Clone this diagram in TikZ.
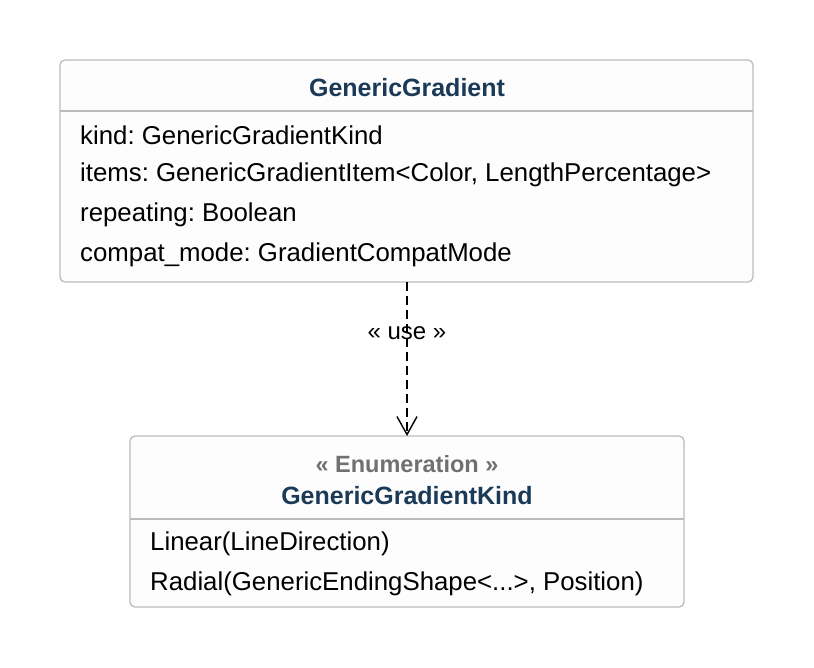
\documentclass[tikz,border=0pt]{standalone}
\usepackage{fontspec}
\setmainfont{Liberation Sans}
\usetikzlibrary{arrows.meta}
\definecolor{boxline}{HTML}{BBBBBB}
\definecolor{boxfill}{HTML}{FDFDFD}
\definecolor{titlecol}{HTML}{1B3A57}
\definecolor{stereocol}{HTML}{707070}
\frenchspacing
\begin{document}
\begin{tikzpicture}[x=1pt,y=-1pt,
  umlbox/.style={draw=boxline,fill=boxfill,line width=1.3pt,rounded corners=5pt},
  sepline/.style={draw=boxline,line width=1.3pt},
  title/.style={font=\fontsize{25}{30}\selectfont\bfseries,text=titlecol,inner sep=0pt},
  stereo/.style={font=\fontsize{23.5}{28}\selectfont\bfseries,text=stereocol,inner sep=0pt},
  member/.style={font=\fontsize{25.8}{30}\selectfont,anchor=west,inner sep=0pt},
  uselabel/.style={font=\fontsize{24}{28}\selectfont,inner sep=1pt},
  dep/.style={draw=black,line width=1.4pt,dash pattern=on 9pt off 5pt,-{Straight Barb[length=18pt,width=20pt,line width=1.4pt]}}
]
\useasboundingbox (0,0) rectangle (814,668);
% top class
\path[umlbox] (60,60) rectangle (753,282);
\coordinate (topbot) at (407,282);
\draw[sepline] (60,111) -- (753,111);
\node[title] (gg) at (407,88) {GenericGradient};
\node[member] (m1) at (80,135) {kind: GenericGradientKind};
\node[member] (m2) at (80,175) {items: GenericGradientItem<Color, LengthPercentage>};
\node[member] (m3) at (80,215) {repeating: Boolean};
\node[member] (m4) at (80,255) {compat\_mode: GradientCompatMode};
% bottom enum
\path[umlbox] (130,436) rectangle (684,607);
\coordinate (enumtop) at (407,436);
\draw[sepline] (130,519) -- (684,519);
\node[stereo] (st) at (407,464) {« Enumeration »};
\node[title] (ggk) at (407,496) {GenericGradientKind};
\node[member] (e1) at (150,544) {Linear(LineDirection)};
\node[member] (e2) at (150,584) {Radial(GenericEndingShape<...>, Position)};
% dependency
\draw[dep] (topbot) -- (enumtop);
\node[uselabel] (use) at (407,333) {« use »};
\end{tikzpicture}
\end{document}
